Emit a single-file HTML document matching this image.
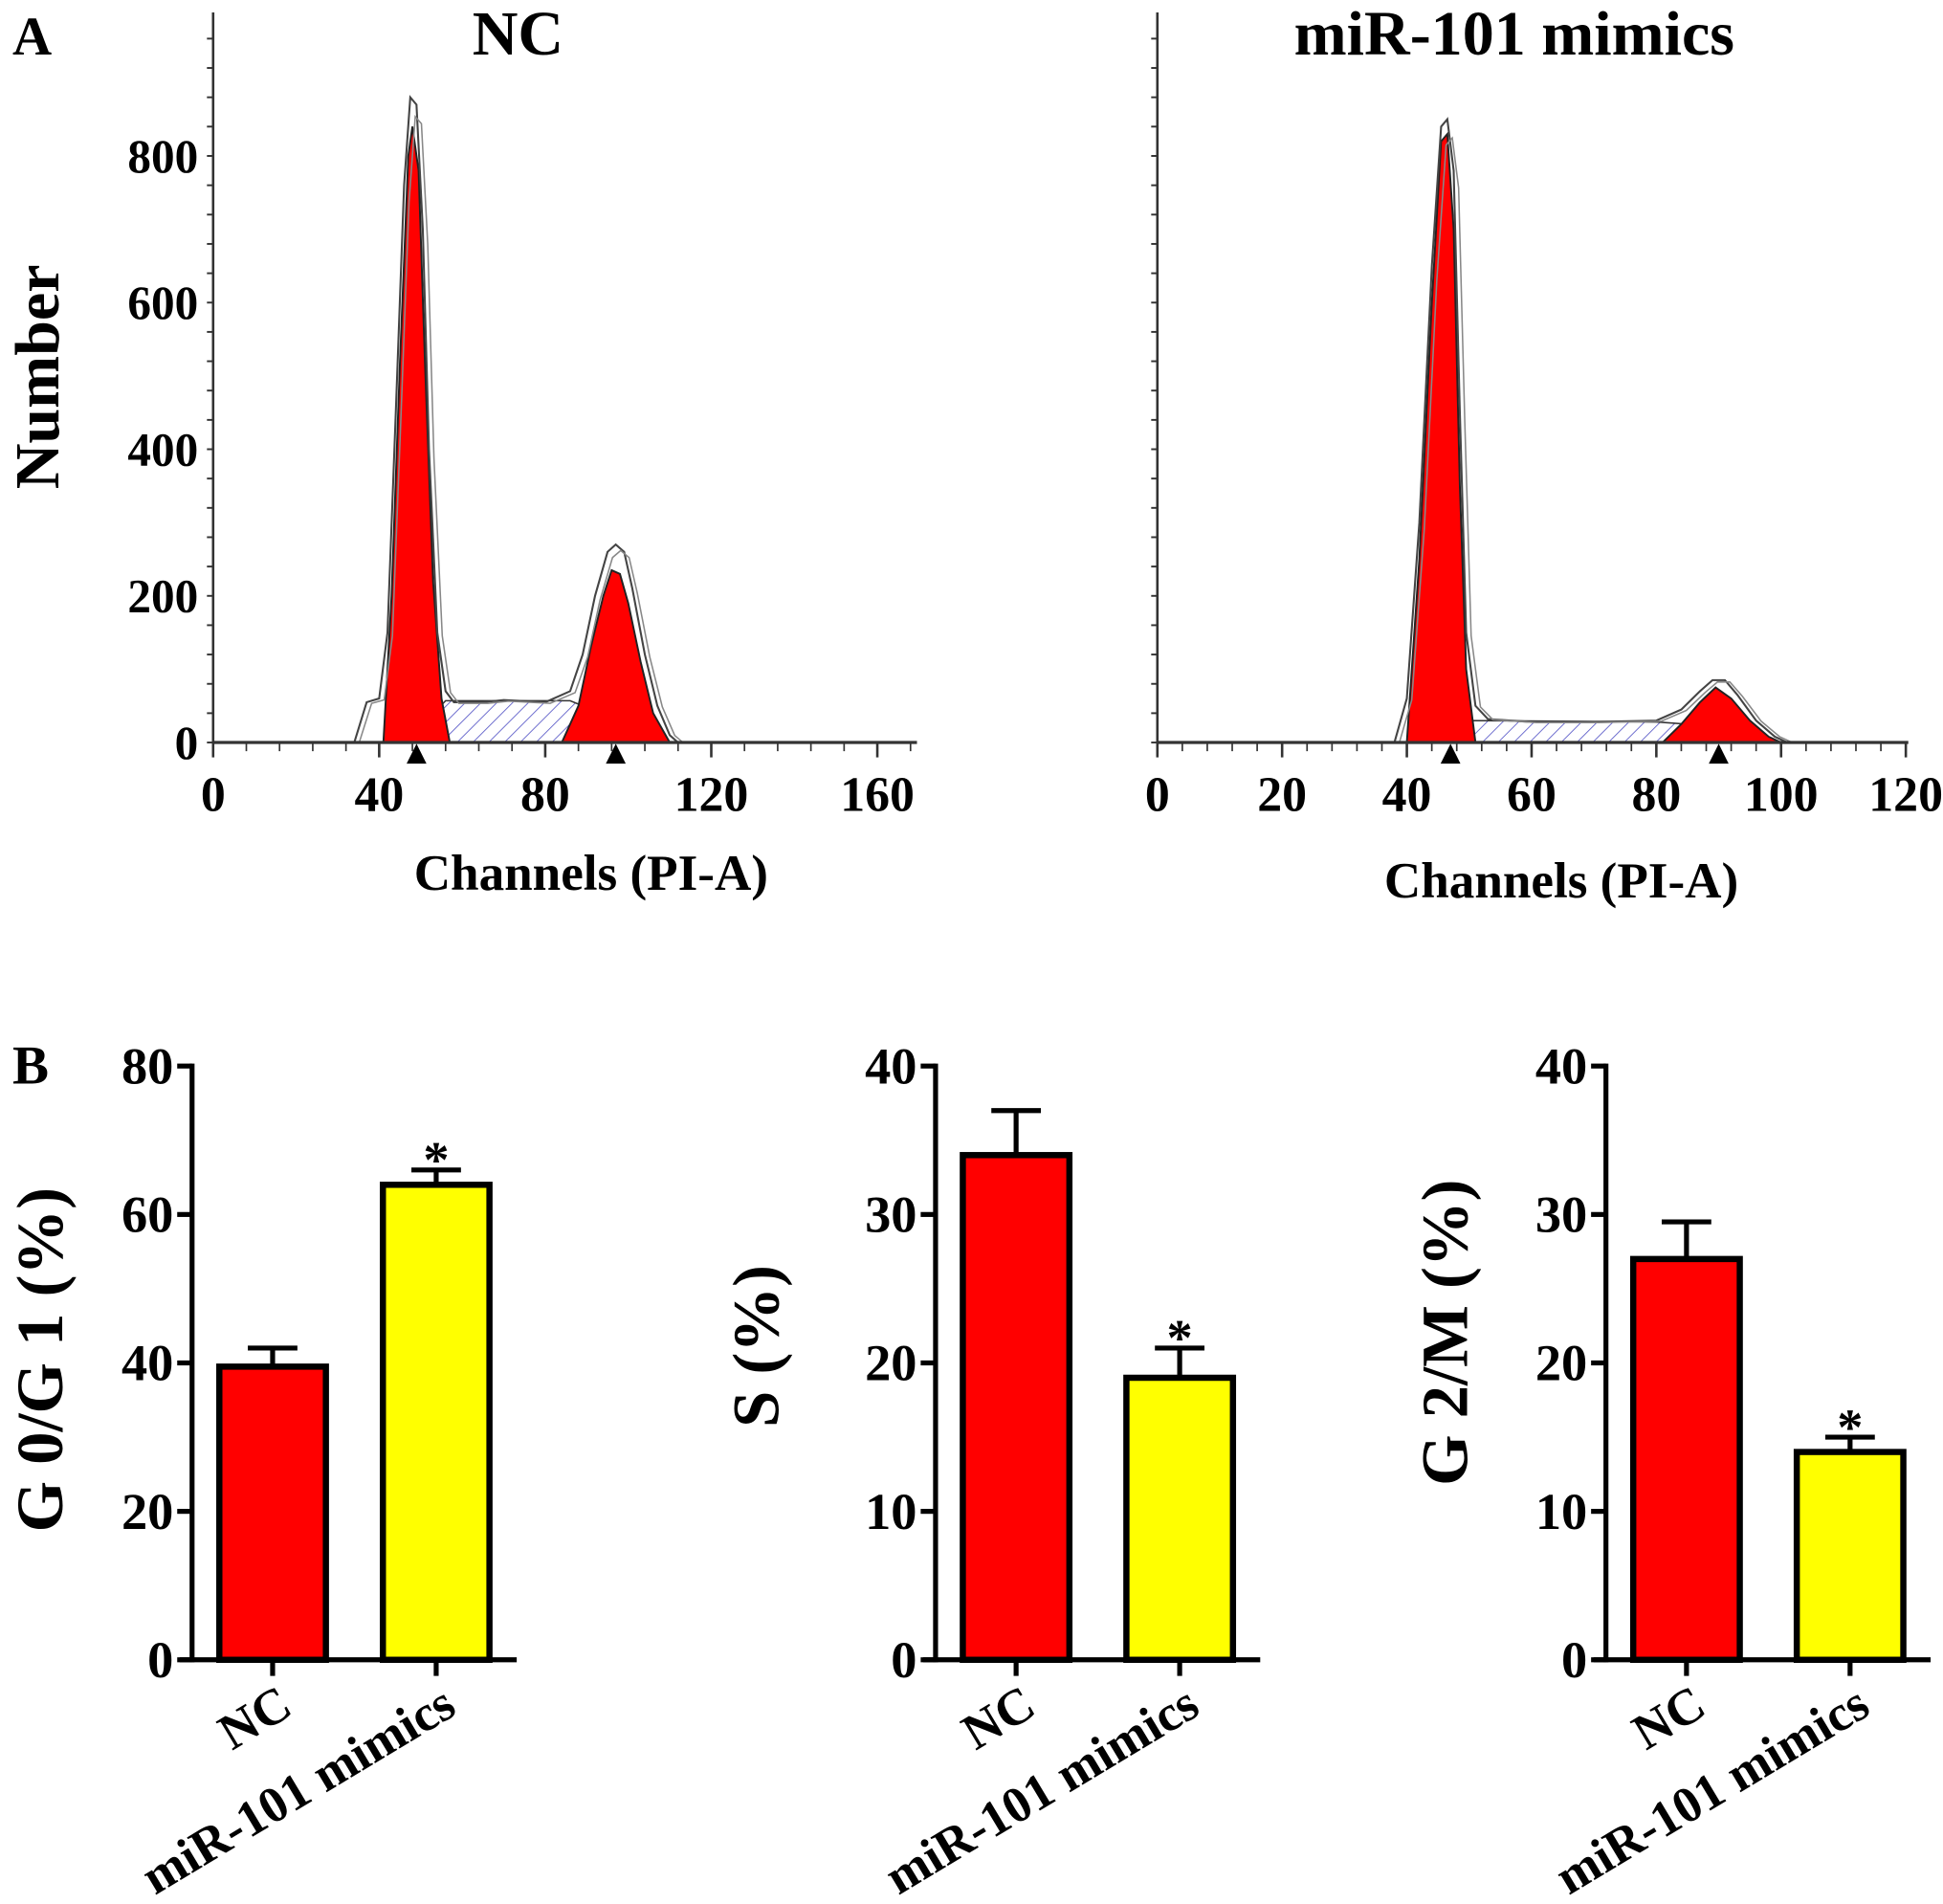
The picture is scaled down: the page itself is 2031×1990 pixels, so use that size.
<!DOCTYPE html>
<html><head><meta charset="utf-8"><style>
html,body{margin:0;padding:0;background:#fff}
svg{display:block}
text{font-family:"Liberation Serif",serif;font-weight:bold;fill:#000}
</style></head><body>
<svg id="fig" width="2031" height="1990" viewBox="0 0 1568 1536" preserveAspectRatio="none" xmlns="http://www.w3.org/2000/svg">
<defs>
<pattern id="hatch" patternUnits="userSpaceOnUse" width="9" height="9" patternTransform="rotate(45)">
<line x1="0" y1="0" x2="0" y2="9" stroke="#5a5ac8" stroke-width="1.3"/>
</pattern>
</defs>
<text x="10" y="44" font-size="44">A</text>
<text x="10" y="874" font-size="44">B</text>
<g id="hist"></g>
<g id="bars"></g>
</svg>
<script>
// ---------- Histogram data ----------
const ncEnvCh  = [34,37,40,42,44,46,47.5,49,50.5,52,54,56,58,65,70,80,86,89,92,95,97,99,101,104,107,110,112];
const ncEnvCt  = [0,55,60,150,450,760,880,870,700,400,150,70,55,55,58,55,70,120,200,260,270,260,210,120,50,10,0];
const ncG1Ch   = [41,43,45,47,48,49.5,51,53,55,57];
const ncG1Ct   = [0,200,520,800,840,780,520,220,60,0];
const ncSCh    = [52,54,56,70,86,89,92,97,104];
const ncSCt    = [0,45,57,57,57,50,40,20,0];
const ncG2Ch   = [84,88,91,94,96,98,100,103,106,110];
const ncG2Ct   = [0,50,130,200,235,230,190,110,40,0];
const ncMarks  = [49,97];

const miEnvCh  = [38,40,42,44,45.5,46.5,47.5,48.5,49.5,51,53,60,70,80,84,87,89,91,93,96,99,101];
const miEnvCt  = [0,60,300,650,840,850,780,450,150,50,32,28,28,30,45,70,85,85,65,30,8,0];
const miG1Ch   = [40,42,44,45.5,46.5,47.5,48.5,49.5,51];
const miG1Ct   = [0,250,600,820,830,700,350,100,0];
const miSCh    = [44,47,50,80,85,90,95];
const miSCt    = [0,20,30,28,25,10,0];
const miG2Ch   = [81,84,87,89.5,92,95,98,100];
const miG2Ct   = [0,25,55,75,60,30,8,0];
const miMarks  = [47,90];

const ncXTicks = [0,40,80,120,160];
const miXTicks = [0,20,40,60,80,100,120];
const yTicksHist = [0,200,400,600,800];

// ---------- Bar data ----------
const barCats   = ["NC","miR-101 mimics"];
const g1Vals    = [39.5,64];
const g1Errs    = [2.5,2];
const sVals     = [34,19];
const sErrs     = [3,2];
const g2Vals    = [27,14];
const g2Errs    = [2.5,1];
const g1Ticks   = [0,20,40,60,80];
const sTicks    = [0,10,20,30,40];
const g2Ticks   = [0,10,20,30,40];

const NS="http://www.w3.org/2000/svg";
function mk(parent,tag,attrs,txt){const e=document.createElementNS(NS,tag);for(const k in attrs)e.setAttribute(k,attrs[k]);if(txt!==undefined)e.textContent=txt;parent.appendChild(e);return e;}

const hist=document.getElementById('hist');
function drawHist(o){
  const g=mk(hist,'g',{});
  
  
  const X=c=>o.x0+(c/o.xmax)*(o.x1-o.x0);
  const Y=v=>599-(v/200)*118.3;
  const poly=(ch,ct)=>ch.map((c,i)=>X(c).toFixed(1)+','+Y(ct[i]).toFixed(1)).join(' ');
  let p=mk(g,'polygon',{points:poly(o.sCh,o.sCt),fill:'url(#hatch)',stroke:'#333','stroke-width':1.2});
  
  p=mk(g,'polygon',{points:poly(o.g1Ch,o.g1Ct),fill:'#f00',stroke:'#222','stroke-width':1.5});
  
  p=mk(g,'polygon',{points:poly(o.g2Ch,o.g2Ct),fill:'#f00',stroke:'#222','stroke-width':1.5});
  
  p=mk(g,'polyline',{points:poly(o.envCh,o.envCt),fill:'none',stroke:'#444','stroke-width':1.6});
  
  p=mk(g,'polyline',{points:poly(o.envCh,o.envCt.map(v=>v*0.97)),fill:'none',stroke:'#888','stroke-width':1.2,transform:'translate(4,0)'});
  
  mk(g,'line',{x1:o.x0,y1:10,x2:o.x0,y2:599,stroke:'#333','stroke-width':2});
  mk(g,'line',{x1:o.x0,y1:599,x2:o.xend,y2:599,stroke:'#333','stroke-width':2.5});
  for(let v=0;v<=960;v+=40){mk(g,'line',{x1:o.x0-5,y1:Y(v),x2:o.x0,y2:Y(v),stroke:'#333','stroke-width':1.5});}
  for(let c=0;X(c)<=o.xend;c+=o.minor){const big=(c%o.major===0);mk(g,'line',{x1:X(c),y1:599,x2:X(c),y2:599+(big?12:7),stroke:'#333','stroke-width':big?2:1.3});}
  o.xTicks.forEach(t=>{const e=mk(g,'text',{x:X(t),y:654,'font-size':40,'text-anchor':'middle'},t);});
  if(o.yLabels){yTicksHist.forEach(t=>{const e=mk(g,'text',{x:o.x0-12,y:Y(t)+13,'font-size':38,'text-anchor':'end'},t);});}
  o.marks.forEach(m=>{const e=mk(g,'polygon',{points:`${X(m)-8},616 ${X(m)+8},616 ${X(m)},600`,fill:'#000'});});
  let t=mk(g,'text',{x:o.titleX,y:44,'font-size':51,'text-anchor':'middle'},o.title);
  t=mk(g,'text',{x:o.xlabX,y:o.xlabY,'font-size':41,'text-anchor':'middle'},'Channels (PI-A)');
}
drawHist({name:'nc-histogram',x0:172,x1:708,xmax:160,xend:740,minor:8,major:40,envCh:ncEnvCh,envCt:ncEnvCt,g1Ch:ncG1Ch,g1Ct:ncG1Ct,sCh:ncSCh,sCt:ncSCt,g2Ch:ncG2Ch,g2Ct:ncG2Ct,marks:ncMarks,xTicks:ncXTicks,yLabels:true,title:'NC',titleX:418,xlabX:477,xlabY:718});
drawHist({name:'mimics-histogram',x0:934,x1:1538,xmax:120,xend:1540,minor:4,major:20,envCh:miEnvCh,envCt:miEnvCt,g1Ch:miG1Ch,g1Ct:miG1Ct,sCh:miSCh,sCt:miSCt,g2Ch:miG2Ch,g2Ct:miG2Ct,marks:miMarks,xTicks:miXTicks,yLabels:false,title:'miR-101 mimics',titleX:1222,xlabX:1260,xlabY:724});
const yl=mk(hist,'text',{x:0,y:0,'font-size':51,'text-anchor':'middle',transform:'translate(47,304) rotate(-90)'},'Number');


// ---------- Bars ----------
const bars=document.getElementById('bars');
const colors=['#ff0000','#ffff00'];
function drawBar(o){
  const g=mk(bars,'g',{});
  
  
  const Y=v=>1339-(v/o.ymax)*479;
  const cx=[o.ax+65,o.ax+197];
  mk(g,'line',{x1:o.ax,y1:858,x2:o.ax,y2:1341,stroke:'#000','stroke-width':4});
  mk(g,'line',{x1:o.ax-10,y1:1339,x2:o.ax+262,y2:1339,stroke:'#000','stroke-width':4});
  o.ticks.forEach(t=>{mk(g,'line',{x1:o.ax-12,y1:Y(t),x2:o.ax,y2:Y(t),stroke:'#000','stroke-width':4});
    const e=mk(g,'text',{x:o.ax-15,y:Y(t)+14,'font-size':42,'text-anchor':'end'},t);});
  o.vals.forEach((v,i)=>{
    const top=Y(v+o.errs[i]);
    let e=mk(g,'line',{x1:cx[i],y1:Y(v),x2:cx[i],y2:top,stroke:'#000','stroke-width':4});
    
    mk(g,'line',{x1:cx[i]-20,y1:top,x2:cx[i]+20,y2:top,stroke:'#000','stroke-width':4});
    e=mk(g,'rect',{x:cx[i]-43,y:Y(v),width:86,height:1339-Y(v),fill:colors[i],stroke:'#000','stroke-width':5});
    
    mk(g,'line',{x1:cx[i],y1:1339,x2:cx[i],y2:1352,stroke:'#000','stroke-width':4});
    e=mk(g,'text',{x:0,y:0,'font-size':41,'text-anchor':'end',transform:`translate(${cx[i]+18},${1382}) rotate(-31)`},barCats[i]);
    
    if(i===1){e=mk(g,'text',{x:cx[i],y:top+6,'font-size':42,'text-anchor':'middle'},'*');}
  });
  const t=mk(g,'text',{x:0,y:0,'font-size':53,'text-anchor':'middle',transform:`translate(${o.labX},${o.labY}) rotate(-90)`},o.label);
  
}
drawBar({name:'g0g1-chart',ax:155,ymax:80,ticks:g1Ticks,vals:g1Vals,errs:g1Errs,label:'G 0/G 1 (%)',labX:50,labY:1097});
drawBar({name:'s-chart',ax:755,ymax:40,ticks:sTicks,vals:sVals,errs:sErrs,label:'S (%)',labX:628,labY:1086});
drawBar({name:'g2m-chart',ax:1296,ymax:40,ticks:g2Ticks,vals:g2Vals,errs:g2Errs,label:'G 2/M (%)',labX:1184,labY:1075});
</script>
</body></html>
